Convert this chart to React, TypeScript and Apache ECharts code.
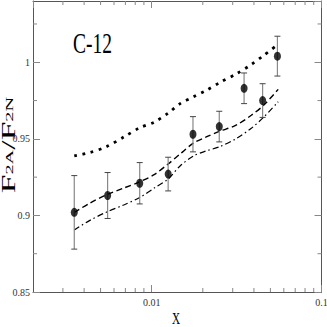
import React, { useEffect, useRef } from "react";
import * as echarts from "echarts";

// Observed data points (NMC-like x bins)
const obsX = [0.0035, 0.0055, 0.0085, 0.0125, 0.0175, 0.025, 0.035, 0.045, 0.055];
const obsY = [0.902, 0.913, 0.921, 0.927, 0.953, 0.958, 0.983, 0.975, 1.004];
const obsErr = [0.024, 0.015, 0.0135, 0.011, 0.0115, 0.01, 0.01, 0.011, 0.013];

// Theory curves
const curveX = [0.0035, 0.0043, 0.0054, 0.0069, 0.0085, 0.0104, 0.0125, 0.0147, 0.0176, 0.0208, 0.0252, 0.0314, 0.0386, 0.0456, 0.0556];
const dottedY = [0.9388, 0.941, 0.9448, 0.9514, 0.9572, 0.961, 0.9668, 0.9730, 0.9774, 0.9814, 0.9868, 0.9923, 0.9985, 1.0044, 1.0118];
const dashedY = [0.9019, 0.9079, 0.9134, 0.918, 0.9219, 0.9268, 0.9336, 0.9401, 0.9472, 0.9511, 0.955, 0.9589, 0.9654, 0.9719, 0.9823];
const dashDotY = [0.8905, 0.8966, 0.9021, 0.907, 0.9117, 0.918, 0.9238, 0.9323, 0.9388, 0.942, 0.9449, 0.9501, 0.9569, 0.9641, 0.9742];

// Axis ticks
const xMinorTicks = [0.003, 0.004, 0.005, 0.006, 0.007, 0.008, 0.009, 0.02, 0.03, 0.04, 0.05, 0.06, 0.07, 0.08, 0.09];
const yMinorTicks = [0.875, 0.925, 0.975, 1.025];

const SERIF = "'Liberation Serif', 'DejaVu Serif', serif";

export default function App() {
  const ref = useRef<HTMLDivElement>(null);
  useEffect(() => {
    document.body.style.margin = "0";
    const chart = echarts.init(ref.current!, null, { renderer: "svg" });
    const frame = "#555";
    const tickColor = "#888";
    const xAxisBase = {
      type: "log" as const,
      logBase: 10,
      min: 0.002,
      max: 0.1,
      splitLine: { show: false },
      minorTick: { show: false },
      axisLine: { show: true, lineStyle: { color: frame, width: 1 } },
      axisTick: { show: true, inside: true, length: 7, lineStyle: { color: tickColor, width: 1 } },
    };
    const yAxisBase = {
      type: "value" as const,
      min: 0.85,
      max: 1.04,
      interval: 0.05,
      splitLine: { show: false },
      axisLine: { show: true, lineStyle: { color: frame, width: 1 } },
      axisTick: { show: true, inside: true, length: 7, lineStyle: { color: tickColor, width: 1 } },
    };
    const option: any = {
      animation: false,
      grid: { left: 33, right: 5.5, top: 1, bottom: 35, containLabel: false, outerBoundsMode: "none" },
      xAxis: [
        {
          ...xAxisBase,
          position: "bottom",
          axisLabel: {
            show: true,
            showMinLabel: false,
            showMaxLabel: true,
            margin: 5,
            fontFamily: SERIF,
            fontSize: 10,
            color: "#333",
            formatter: (v: number) => String(+v.toPrecision(3)),
          },
        },
        { ...xAxisBase, position: "top", axisLabel: { show: false } },
      ],
      yAxis: [
        {
          ...yAxisBase,
          position: "left",
          axisLabel: {
            show: true,
            showMaxLabel: false,
            margin: 3,
            fontFamily: SERIF,
            fontSize: 10,
            color: "#333",
            formatter: (v: number) => String(+v.toFixed(3)),
          },
        },
        { ...yAxisBase, position: "right", axisLabel: { show: false } },
      ],
      graphic: [
        {
          type: "text",
          x: 73,
          y: 27,
          scaleX: 0.65,
          style: { text: "C-12", font: `30px ${SERIF}`, fill: "#000", textAlign: "left", textVerticalAlign: "top" },
        },
        {
          type: "text",
          x: 9,
          y: 145,
          rotation: Math.PI / 2,
          scaleX: 1.2,
          scaleY: 0.65,
          style: {
            text: "{a|F}{b|2A}{a|/F}{b|2N}",
            textAlign: "center",
            textVerticalAlign: "middle",
            fill: "#000",
            rich: {
              a: { fontFamily: SERIF, fontSize: 28, fill: "#000" },
              b: { fontFamily: SERIF, fontSize: 17, fill: "#000" },
            },
          },
        },
        {
          type: "text",
          x: 172,
          y: 318.5,
          scaleX: 0.7,
          style: { text: "X", font: `16px ${SERIF}`, fill: "#000", textAlign: "left", textVerticalAlign: "middle" },
        },
      ],
      series: [
        {
          type: "custom",
          silent: true,
          data: xMinorTicks.map((v) => [v, 0.9]),
          renderItem: (params: any, api: any) => {
            const px = api.coord([api.value(0), 0.9])[0];
            const cs = params.coordSys;
            const bottom = cs.y + cs.height;
            return {
              type: "group",
              children: [
                { type: "line", shape: { x1: px, y1: bottom, x2: px, y2: bottom - 4 }, style: { stroke: tickColor, lineWidth: 1 } },
                { type: "line", shape: { x1: px, y1: cs.y, x2: px, y2: cs.y + 4 }, style: { stroke: tickColor, lineWidth: 1 } },
              ],
            };
          },
        },
        {
          type: "custom",
          silent: true,
          data: yMinorTicks.map((v) => [0.01, v]),
          renderItem: (params: any, api: any) => {
            const py = api.coord([0.01, api.value(1)])[1];
            const cs = params.coordSys;
            const right = cs.x + cs.width;
            return {
              type: "group",
              children: [
                { type: "line", shape: { x1: cs.x, y1: py, x2: cs.x + 4, y2: py }, style: { stroke: tickColor, lineWidth: 1 } },
                { type: "line", shape: { x1: right, y1: py, x2: right - 4, y2: py }, style: { stroke: tickColor, lineWidth: 1 } },
              ],
            };
          },
        },
        {
          type: "line",
          silent: true,
          data: curveX.map((x, i) => [x, dottedY[i]]),
          symbol: "none",
          smooth: 0.3,
          lineStyle: { color: "#000", width: 2.8, type: [2.8, 5.6] },
          z: 3,
        },
        {
          type: "line",
          silent: true,
          data: curveX.map((x, i) => [x, dashedY[i]]),
          symbol: "none",
          smooth: 0.3,
          lineStyle: { color: "#000", width: 1.4, type: [6, 3.5] },
          z: 3,
        },
        {
          type: "line",
          silent: true,
          data: curveX.map((x, i) => [x, dashDotY[i]]),
          symbol: "none",
          smooth: 0.3,
          lineStyle: { color: "#000", width: 1.2, type: [6, 3, 1.5, 3] },
          z: 3,
        },
        {
          type: "custom",
          silent: true,
          z: 4,
          data: obsX.map((x, i) => [x, obsY[i] - obsErr[i], obsY[i] + obsErr[i]]),
          renderItem: (params: any, api: any) => {
            const x = api.value(0);
            const lo = api.coord([x, api.value(1)]);
            const hi = api.coord([x, api.value(2)]);
            return {
              type: "group",
              children: [
                { type: "line", shape: { x1: lo[0], y1: lo[1], x2: hi[0], y2: hi[1] }, style: { stroke: "#888", lineWidth: 1.2 } },
                { type: "line", shape: { x1: lo[0] - 3, y1: lo[1], x2: lo[0] + 3, y2: lo[1] }, style: { stroke: "#444", lineWidth: 1 } },
                { type: "line", shape: { x1: hi[0] - 3, y1: hi[1], x2: hi[0] + 3, y2: hi[1] }, style: { stroke: "#444", lineWidth: 1 } },
              ],
            };
          },
        },
        {
          type: "scatter",
          silent: true,
          z: 5,
          data: obsX.map((x, i) => [x, obsY[i]]),
          symbol: "circle",
          symbolSize: [7, 9],
          itemStyle: { color: "#000" },
        },
      ],
    };
    chart.setOption(option);
    return () => chart.dispose();
  }, []);
  return <div ref={ref} style={{ width: 327, height: 327 }} />;
}
